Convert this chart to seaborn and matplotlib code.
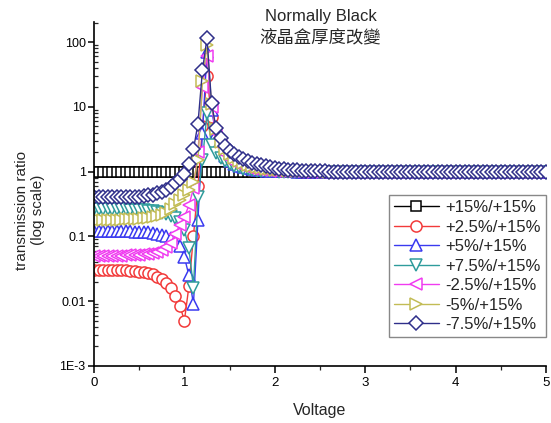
import numpy as np
import pandas as pd
import matplotlib
matplotlib.use("Agg")
import matplotlib.pyplot as plt
import seaborn as sns
from matplotlib.ticker import FixedLocator, FixedFormatter, LogLocator, NullFormatter, MultipleLocator

# ---------------- data ----------------
voltage = np.round(np.arange(101) * 0.05, 2)

series_labels = ["+15%/+15%", "+2.5%/+15%", "+5%/+15%", "+7.5%/+15%",
                 "-2.5%/+15%", "-5%/+15%", "-7.5%/+15%"]

r_p15 = [1.0, 1.0, 1.0, 1.0, 1.0, 1.0, 1.0, 1.0, 1.0, 1.0,
         1.0, 1.0, 1.0, 1.0, 1.0, 1.0, 1.0, 1.0, 1.0, 1.0,
         1.0, 1.0, 1.0, 1.0, 1.0, 1.0, 1.0, 1.0, 1.0, 1.0,
         1.0, 1.0, 1.0, 1.0, 1.0, 1.0, 1.0, 1.0, 1.0, 1.0,
         1.0, 1.0, 1.0, 1.0, 1.0, 1.0, 1.0, 1.0, 1.0, 1.0,
         1.0, 1.0, 1.0, 1.0, 1.0, 1.0, 1.0, 1.0, 1.0, 1.0,
         1.0, 1.0, 1.0, 1.0, 1.0, 1.0, 1.0, 1.0, 1.0, 1.0,
         1.0, 1.0, 1.0, 1.0, 1.0, 1.0, 1.0, 1.0, 1.0, 1.0,
         1.0, 1.0, 1.0, 1.0, 1.0, 1.0, 1.0, 1.0, 1.0, 1.0,
         1.0, 1.0, 1.0, 1.0, 1.0, 1.0, 1.0, 1.0, 1.0, 1.0,
         1.0]

r_p2_5 = [0.030, 0.030, 0.030, 0.030, 0.030, 0.030, 0.030, 0.030, 0.029, 0.029,
          0.028, 0.028, 0.027, 0.026, 0.024, 0.022, 0.019, 0.016, 0.012, 0.0085,
          0.005, 0.017, 0.10, 0.6, 5.0, 30.0, 7.0, 3.2, 2.1, 1.65,
          1.42, 1.30, 1.22, 1.16, 1.12, 1.09, 1.07, 1.05, 1.04, 1.03,
          1.02, 1.015, 1.01, 1.01, 1.005, 1.0, 1.0, 1.0, 1.0, 1.0,
          1.0, 1.0, 1.0, 1.0, 1.0, 1.0, 1.0, 1.0, 1.0, 1.0,
          1.0, 1.0, 1.0, 1.0, 1.0, 1.0, 1.0, 1.0, 1.0, 1.0,
          1.0, 1.0, 1.0, 1.0, 1.0, 1.0, 1.0, 1.0, 1.0, 1.0,
          1.0, 1.0, 1.0, 1.0, 1.0, 1.0, 1.0, 1.0, 1.0, 1.0,
          1.0, 1.0, 1.0, 1.0, 1.0, 1.0, 1.0, 1.0, 1.0, 1.0,
          1.0]

r_p5 = [0.122, 0.122, 0.122, 0.122, 0.121, 0.121, 0.121, 0.120, 0.120, 0.119,
        0.118, 0.117, 0.115, 0.113, 0.110, 0.106, 0.100, 0.093, 0.084, 0.070,
        0.048, 0.025, 0.009, 0.18, 4.0, 70.0, 9.0, 3.8, 2.3, 1.75,
        1.48, 1.33, 1.24, 1.17, 1.12, 1.09, 1.07, 1.05, 1.04, 1.03,
        1.02, 1.015, 1.01, 1.01, 1.005, 1.0, 1.0, 1.0, 1.0, 1.0,
        1.0, 1.0, 1.0, 1.0, 1.0, 1.0, 1.0, 1.0, 1.0, 1.0,
        1.0, 1.0, 1.0, 1.0, 1.0, 1.0, 1.0, 1.0, 1.0, 1.0,
        1.0, 1.0, 1.0, 1.0, 1.0, 1.0, 1.0, 1.0, 1.0, 1.0,
        1.0, 1.0, 1.0, 1.0, 1.0, 1.0, 1.0, 1.0, 1.0, 1.0,
        1.0, 1.0, 1.0, 1.0, 1.0, 1.0, 1.0, 1.0, 1.0, 1.0,
        1.0]

r_p7_5 = [0.265, 0.265, 0.265, 0.264, 0.264, 0.263, 0.262, 0.261, 0.260, 0.258,
          0.256, 0.253, 0.250, 0.245, 0.240, 0.232, 0.222, 0.210, 0.192, 0.165,
          0.125, 0.066, 0.016, 0.40, 1.5, 8.0, 2.6, 1.95, 1.65, 1.45,
          1.32, 1.23, 1.16, 1.11, 1.08, 1.06, 1.04, 1.03, 1.02, 1.01,
          1.005, 1.0, 1.0, 1.0, 1.0, 1.0, 1.0, 1.0, 1.0, 1.0,
          1.0, 1.0, 1.0, 1.0, 1.0, 1.0, 1.0, 1.0, 1.0, 1.0,
          1.0, 1.0, 1.0, 1.0, 1.0, 1.0, 1.0, 1.0, 1.0, 1.0,
          1.0, 1.0, 1.0, 1.0, 1.0, 1.0, 1.0, 1.0, 1.0, 1.0,
          1.0, 1.0, 1.0, 1.0, 1.0, 1.0, 1.0, 1.0, 1.0, 1.0,
          1.0, 1.0, 1.0, 1.0, 1.0, 1.0, 1.0, 1.0, 1.0, 1.0,
          1.0]

r_m2_5 = [0.050, 0.050, 0.050, 0.050, 0.050, 0.050, 0.050, 0.051, 0.051, 0.052,
          0.052, 0.053, 0.054, 0.056, 0.058, 0.062, 0.068, 0.080, 0.11, 0.15,
          0.20, 0.30, 0.55, 2.0, 20.0, 60.0, 10.0, 4.0, 2.5, 1.9,
          1.55, 1.38, 1.27, 1.20, 1.14, 1.10, 1.08, 1.06, 1.045, 1.035,
          1.025, 1.02, 1.015, 1.01, 1.005, 1.0, 1.0, 1.0, 1.0, 1.0,
          1.0, 1.0, 1.0, 1.0, 1.0, 1.0, 1.0, 1.0, 1.0, 1.0,
          1.0, 1.0, 1.0, 1.0, 1.0, 1.0, 1.0, 1.0, 1.0, 1.0,
          1.0, 1.0, 1.0, 1.0, 1.0, 1.0, 1.0, 1.0, 1.0, 1.0,
          1.0, 1.0, 1.0, 1.0, 1.0, 1.0, 1.0, 1.0, 1.0, 1.0,
          1.0, 1.0, 1.0, 1.0, 1.0, 1.0, 1.0, 1.0, 1.0, 1.0,
          1.0]

r_m5 = [0.180, 0.180, 0.180, 0.180, 0.181, 0.181, 0.182, 0.183, 0.184, 0.186,
        0.188, 0.191, 0.195, 0.200, 0.207, 0.216, 0.230, 0.265, 0.315, 0.370,
        0.43, 0.52, 0.70, 1.5, 25.0, 90.0, 11.0, 4.5, 2.9, 2.2,
        1.85, 1.6, 1.45, 1.35, 1.27, 1.21, 1.17, 1.14, 1.11, 1.09,
        1.07, 1.06, 1.05, 1.04, 1.03, 1.025, 1.02, 1.015, 1.01, 1.01,
        1.005, 1.0, 1.0, 1.0, 1.0, 1.0, 1.0, 1.0, 1.0, 1.0,
        1.0, 1.0, 1.0, 1.0, 1.0, 1.0, 1.0, 1.0, 1.0, 1.0,
        1.0, 1.0, 1.0, 1.0, 1.0, 1.0, 1.0, 1.0, 1.0, 1.0,
        1.0, 1.0, 1.0, 1.0, 1.0, 1.0, 1.0, 1.0, 1.0, 1.0,
        1.0, 1.0, 1.0, 1.0, 1.0, 1.0, 1.0, 1.0, 1.0, 1.0,
        1.0]

r_m7_5 = [0.40, 0.40, 0.40, 0.40, 0.40, 0.40, 0.40, 0.40, 0.41, 0.41,
          0.41, 0.42, 0.43, 0.44, 0.46, 0.48, 0.52, 0.58, 0.66, 0.78,
          0.93, 1.3, 2.2, 5.5, 37.0, 115.0, 11.5, 4.7, 3.3, 2.5,
          2.1, 1.85, 1.7, 1.58, 1.46, 1.38, 1.31, 1.25, 1.2, 1.16,
          1.13, 1.11, 1.09, 1.07, 1.06, 1.05, 1.04, 1.03, 1.02, 1.015,
          1.01, 1.005, 1.0, 1.0, 1.0, 1.0, 1.0, 1.0, 1.0, 1.0,
          1.0, 1.0, 1.0, 1.0, 1.0, 1.0, 1.0, 1.0, 1.0, 1.0,
          1.0, 1.0, 1.0, 1.0, 1.0, 1.0, 1.0, 1.0, 1.0, 1.0,
          1.0, 1.0, 1.0, 1.0, 1.0, 1.0, 1.0, 1.0, 1.0, 1.0,
          1.0, 1.0, 1.0, 1.0, 1.0, 1.0, 1.0, 1.0, 1.0, 1.0,
          1.0]

series_values = [r_p15, r_p2_5, r_p5, r_p7_5, r_m2_5, r_m5, r_m7_5]

y_tick_values = [1e-3, 1e-2, 1e-1, 1, 10, 100]
y_tick_labels = ["1E-3", "0.01", "0.1", "1", "10", "100"]
x_tick_values = [0, 1, 2, 3, 4, 5]

title_en = "Normally Black"
title_zh = "液晶盒厚度改變"
x_label = "Voltage"
y_label = "transmission ratio\n(log scale)"

# ---------------- styles ----------------
colors = ["#000000", "#f23a3a", "#3a3af0", "#2e9c9c", "#f03cf0", "#c2bc55", "#2f2f8a"]
markers = ["s", "o", "^", "v", "<", ">", "D"]
msizes = [7.5, 8, 8, 8, 8, 8, 7]

sns.set_style("ticks")
plt.rcParams["font.family"] = ["Liberation Sans", "DejaVu Sans"]

fig = plt.figure(figsize=(5.51, 4.23), dpi=100)
ax = fig.add_axes([0.1706, 0.1348, 0.8203, 0.8132])

for vals, lab, c, m, ms in zip(series_values, series_labels, colors, markers, msizes):
    sns.lineplot(x=voltage, y=np.array(vals), ax=ax, color=c, marker=m,
                 markersize=ms, markerfacecolor="white", markeredgecolor=c,
                 markeredgewidth=1.1, linewidth=1.0, label=lab, errorbar=None)

ax.set_yscale("log")
ax.set_xlim(0, 5)
ax.set_ylim(1e-3, 204)

ax.yaxis.set_major_locator(FixedLocator(y_tick_values))
ax.yaxis.set_major_formatter(FixedFormatter(y_tick_labels))
ax.yaxis.set_minor_locator(LogLocator(base=10, subs=np.arange(2, 10)))
ax.yaxis.set_minor_formatter(NullFormatter())
ax.xaxis.set_major_locator(FixedLocator(x_tick_values))
ax.xaxis.set_minor_locator(MultipleLocator(0.5))

for s in ["top", "right"]:
    ax.spines[s].set_visible(False)
for s in ["left", "bottom"]:
    ax.spines[s].set_linewidth(1.2)
    ax.spines[s].set_color("black")

ax.tick_params(axis="y", which="major", direction="out", length=4, width=1.1,
               labelsize=9, pad=2, colors="black")
ax.tick_params(axis="y", which="minor", direction="in", length=3, width=0.9)
ax.tick_params(axis="x", which="major", direction="out", length=5, width=1.1,
               labelsize=9.5, pad=3, colors="black")
ax.tick_params(axis="x", which="minor", direction="out", length=3, width=0.9)

ax.set_xlabel("")
ax.set_ylabel("")
fig.text(320 / 551, 1 - 410 / 423, x_label, ha="center", va="center", fontsize=11.5)
fig.text(30 / 551, 1 - 210 / 423, y_label, ha="center", va="center", rotation=90,
         fontsize=11, linespacing=1.1)

fig.text(321 / 551, 1 - 16 / 423, title_en, ha="center", va="center", fontsize=12)
fig.text(320 / 551, 1 - 38 / 423, title_zh, ha="center", va="center", fontsize=12.5,
         family=["Noto Sans CJK TC", "DejaVu Sans"])

leg = ax.legend(loc="lower right", bbox_to_anchor=(1.0, 0.084), fontsize=12,
                frameon=True, fancybox=False, framealpha=1, edgecolor="#888888",
                handlelength=2.7, handletextpad=0.4, labelspacing=0.27,
                borderpad=0.3, borderaxespad=0.0)
leg.get_frame().set_linewidth(1.0)

fig.savefig("out.png", dpi=100)
